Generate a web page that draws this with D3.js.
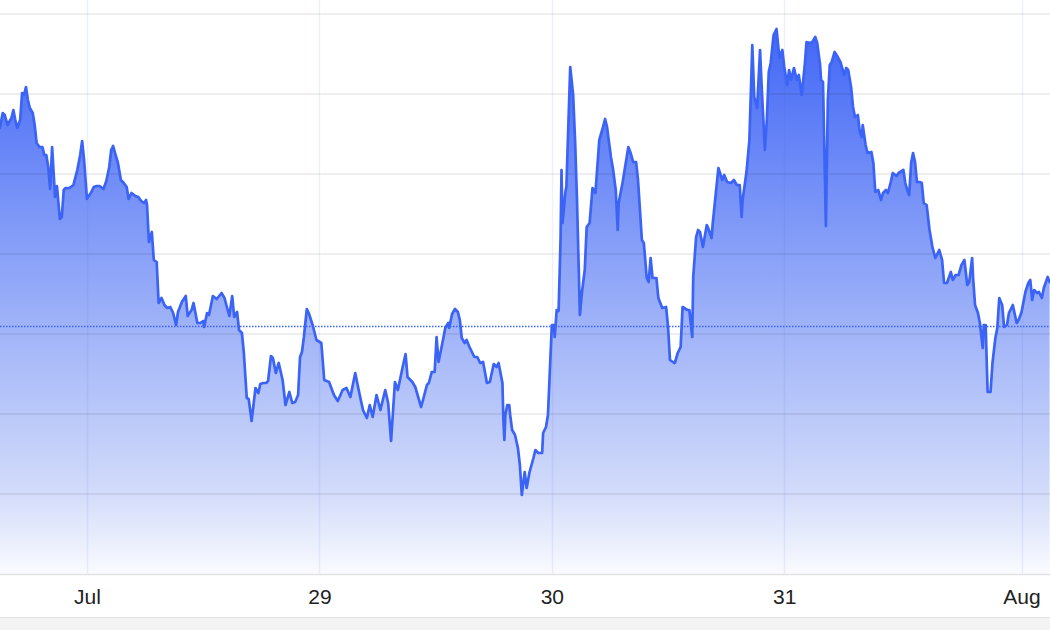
<!DOCTYPE html>
<html>
<head>
<meta charset="utf-8">
<script src="https://cdn.jsdelivr.net/npm/d3@7"></script>
<style>
  html, body { margin: 0; padding: 0; background: #ffffff; }
  svg { display: block; }
</style>
</head>
<body>
<svg id="chart" width="1050" height="630"></svg>
<script>
// ---- data ----
// hours relative to Jul 28 00:00
const hours = [
-9.0,-8.7,-8.5,-8.2,-7.8,-7.6,-7.4,-7.2,-6.9,-6.7,-6.5,-6.3,-6.1,-5.9,-5.6,-5.4,-5.2,-4.9,-4.6,-4.4,
-4.2,-4.0,-3.8,-3.6,-3.4,-3.3,-3.1,-2.8,-2.6,-2.4,-2.2,-1.8,-1.4,-1.0,-0.7,-0.5,-0.3,0.0,0.1,0.4,
0.7,1.0,1.3,1.7,2.0,2.3,2.5,2.7,2.9,3.2,3.5,3.8,4.1,4.3,4.6,5.0,5.3,5.6,5.9,6.1,
6.2,6.4,6.7,6.9,7.2,7.4,7.7,8.0,8.3,8.6,8.9,9.2,9.4,9.8,10.2,10.4,10.8,11.0,11.4,11.7,
12.0,12.1,12.4,12.6,13.0,13.4,13.9,14.2,14.7,15.0,15.2,15.5,15.7,16.0,16.2,16.5,16.7,17.0,17.4,17.7,
17.9,18.2,18.5,18.7,19.0,19.2,19.5,19.8,20.2,20.5,20.9,21.2,21.5,21.8,22.0,22.2,22.4,22.7,22.9,23.3,
23.7,24.2,24.5,25.0,25.5,25.9,26.4,26.8,27.2,27.7,28.1,28.5,28.9,29.2,29.5,29.9,30.3,30.8,31.1,31.4,
31.8,32.1,32.6,32.9,33.1,33.6,33.9,34.2,34.5,34.7,35.1,35.3,35.6,35.9,36.1,36.3,36.7,37.0,37.3,37.4,
37.7,38.0,38.3,38.5,38.7,39.0,39.2,39.5,40.0,40.3,40.6,40.9,41.3,41.6,42.0,42.3,42.5,42.9,43.0,43.1,
43.2,43.4,43.6,43.7,43.9,44.2,44.5,44.7,44.9,45.2,45.4,45.7,46.1,46.3,46.6,47.0,47.1,47.4,47.6,47.8,
48.0,48.2,48.3,48.5,48.7,48.9,49.0,49.1,49.4,49.5,49.9,50.2,50.4,50.6,50.9,51.1,51.4,51.6,51.9,52.2,
52.5,52.9,53.2,53.5,53.7,54.1,54.3,54.6,54.8,54.9,55.3,55.9,56.1,56.4,56.7,56.9,57.3,57.5,57.8,58.0,
58.2,58.4,58.8,59.0,59.4,59.8,60.0,60.2,60.5,60.7,61.0,61.3,61.5,62.0,62.2,62.5,62.6,62.9,63.1,63.3,
63.6,64.0,64.1,64.5,64.6,65.2,65.6,65.8,66.1,66.5,66.8,67.1,67.4,67.6,67.7,68.1,68.4,68.7,68.9,69.2,
69.5,69.7,70.0,70.2,70.4,70.6,70.9,71.2,71.5,71.8,72.0,72.3,72.5,72.7,73.0,73.3,73.5,73.8,74.1,74.3,
74.7,74.9,75.2,75.4,75.7,75.8,76.0,76.3,76.5,76.7,76.9,77.2,77.4,77.8,78.1,78.2,78.4,78.6,78.9,79.1,
79.3,79.6,79.8,80.0,80.1,80.4,80.6,81.0,81.2,81.4,81.7,82.0,82.2,82.5,82.7,83.0,83.2,83.6,83.8,84.3,
84.5,84.7,84.9,85.1,85.3,85.5,85.7,86.0,86.2,86.4,86.7,87.0,87.3,87.6,88.0,88.3,88.5,88.8,89.2,89.4,
89.7,90.0,90.3,90.6,90.9,91.1,91.4,91.5,91.7,92.0,92.2,92.4,92.5,92.6,92.8,92.9,93.0,93.3,93.5,93.8,
94.0,94.2,94.5,94.7,95.0,95.2,95.6,96.0,96.2,96.5,96.9,97.2,97.4,97.6,97.8,98.1,98.3,98.6,98.8,99.2,
99.4
];
const values = [
446,461,459,449,456,464,454,446,454,481,479,487,474,466,461,449,431,427,427,419,
419,407,385,427,394,377,388,355,357,384,386,386,389,404,419,433,414,375,377,381,
387,388,388,385,393,407,424,428,421,411,394,391,387,375,381,378,377,373,371,374,
369,332,342,314,312,271,276,269,266,267,261,249,262,272,278,258,264,271,251,251,
253,247,261,259,278,275,281,276,258,278,257,262,244,241,221,176,175,153,186,181,
190,191,191,193,218,216,201,211,194,169,182,171,172,179,217,222,237,265,261,249,
234,231,194,192,179,173,184,186,177,201,182,164,156,169,157,179,164,184,171,133,
192,184,207,220,197,192,187,177,167,174,189,191,202,202,237,212,231,246,251,246,
260,265,262,254,236,231,234,227,217,217,211,212,191,192,210,207,211,191,154,134,
159,169,169,159,144,139,126,109,79,102,86,102,116,124,121,121,141,147,159,204,
249,249,237,264,263,334,404,351,382,387,507,479,434,374,259,281,304,347,351,386,
381,434,444,455,447,417,406,384,344,371,391,427,422,412,412,394,334,331,296,292,
316,296,296,276,266,267,247,214,212,211,221,227,267,264,264,237,297,337,344,342,
327,349,347,336,349,406,394,399,392,391,394,389,389,357,374,402,434,529,477,466,
524,481,424,454,502,511,539,545,516,524,507,489,504,494,506,494,499,479,507,532,
531,532,537,531,509,494,492,348,474,509,512,522,519,512,502,499,506,504,487,467,
457,459,442,437,449,429,421,422,411,382,384,374,381,384,381,392,401,398,401,404,
391,384,379,411,421,412,392,392,391,371,369,344,327,316,324,314,291,291,302,294,
299,299,309,314,289,292,316,296,269,261,251,234,226,249,249,214,182,182,211,236,
246,276,269,247,249,261,269,251,254,262,282,291,294,274,284,281,282,276,286,297,
292
];
const referenceValue = 248.3;                    // dotted reference level
const gridValues = [80, 160, 240, 320, 400, 480, 560];
const tickDates = ["2024-07-28T00:00", "2024-07-29T00:00", "2024-07-30T00:00", "2024-07-31T00:00", "2024-08-01T00:30"];
const tickLabels = ["Jul", "29", "30", "31", "Aug"];
const baseDate = new Date("2024-07-28T00:00");
const domainHours = [-8.98, 99.44];

// ---- chart ----
const W = 1050, H = 630;
const plotTop = 14, plotBottom = 574;
const HOUR = 3600 * 1000;
const toDate = h => new Date(baseDate.getTime() + h * HOUR);

const data = hours.map((h, i) => ({ t: toDate(h), v: values[i] }));

const x = d3.scaleTime()
  .domain(domainHours.map(toDate))
  .range([0, W]);
const y = d3.scaleLinear()
  .domain([0, 560])
  .range([plotBottom, plotTop]);

const svg = d3.select("#chart");

// bottom gray band
svg.append("rect").attr("x", 0).attr("y", 617).attr("width", W).attr("height", H - 617)
  .attr("fill", "#f3f3f3");
svg.append("line").attr("x1", 0).attr("x2", W).attr("y1", 617.5).attr("y2", 617.5)
  .attr("stroke", "#e2e2e2").attr("stroke-width", 1);

// gradient
const defs = svg.append("defs");
const grad = defs.append("linearGradient")
  .attr("id", "areaGrad")
  .attr("gradientUnits", "userSpaceOnUse")
  .attr("x1", 0).attr("x2", 0)
  .attr("y1", y(d3.max(values))).attr("y2", plotBottom);
grad.append("stop").attr("offset", 0).attr("stop-color", "rgb(66,103,246)");
grad.append("stop").attr("offset", 0.5).attr("stop-color", "rgb(152,173,248)");
grad.append("stop").attr("offset", 0.85).attr("stop-color", "rgb(210,219,250)");
grad.append("stop").attr("offset", 1).attr("stop-color", "rgb(250,251,255)");

// area
const area = d3.area()
  .x(d => x(d.t))
  .y0(y(0))
  .y1(d => y(d.v));
svg.append("path").datum(data)
  .attr("d", area)
  .attr("fill", "url(#areaGrad)");

// vertical grid lines (at tick dates)
const tickDateObjs = tickDates.map(s => new Date(s));
svg.append("g").selectAll("line").data(tickDateObjs).join("line")
  .attr("x1", d => Math.round(x(d)) + 0.5).attr("x2", d => Math.round(x(d)) + 0.5)
  .attr("y1", 0).attr("y2", plotBottom)
  .attr("stroke", "rgba(60,100,200,0.09)")
  .attr("stroke-width", 1.5);

// horizontal grid lines
svg.append("g").selectAll("line").data(gridValues).join("line")
  .attr("x1", 0).attr("x2", W)
  .attr("y1", d => y(d)).attr("y2", d => y(d))
  .attr("stroke", "rgba(0,0,0,0.09)")
  .attr("stroke-width", 1.6);

// axis baseline
svg.append("line").attr("x1", 0).attr("x2", W)
  .attr("y1", plotBottom + 0.5).attr("y2", plotBottom + 0.5)
  .attr("stroke", "#e2e2e2").attr("stroke-width", 1.5);

// reference dotted line
svg.append("line")
  .attr("x1", 0).attr("x2", W)
  .attr("y1", Math.round(y(referenceValue)) + 0.5).attr("y2", Math.round(y(referenceValue)) + 0.5)
  .attr("stroke", "#3b63f6").attr("stroke-width", 1.4)
  .attr("stroke-dasharray", "1.5,1.5");

// price line
const line = d3.line()
  .x(d => x(d.t))
  .y(d => y(d.v));
svg.append("path").datum(data)
  .attr("d", line)
  .attr("fill", "none")
  .attr("stroke", "#3b63f6")
  .attr("stroke-width", 2.7)
  .attr("stroke-linejoin", "round")
  .attr("stroke-linecap", "round");

// x axis labels
const xAxis = d3.axisBottom(x)
  .tickValues(tickDateObjs)
  .tickFormat((d, i) => tickLabels[i])
  .tickSize(0)
  .tickPadding(0);
const gx = svg.append("g")
  .attr("transform", `translate(0,${plotBottom})`)
  .call(xAxis);
gx.select(".domain").remove();
gx.selectAll("text")
  .attr("dy", null)
  .attr("y", 30)
  .attr("font-family", "'Liberation Sans', Arial, Helvetica, sans-serif")
  .attr("font-size", 21)
  .attr("fill", "#222");
</script>
</body>
</html>
